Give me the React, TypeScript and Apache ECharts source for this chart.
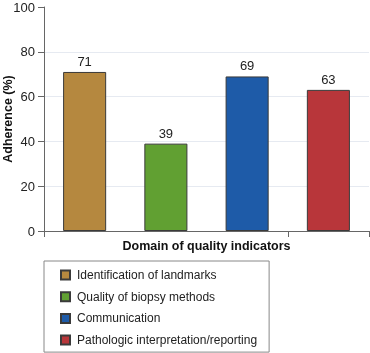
import React, { useEffect, useRef } from "react";
import * as echarts from "echarts";

const categories = [
  "Identification of landmarks",
  "Quality of biopsy methods",
  "Communication",
  "Pathologic interpretation/reporting",
];
const values = [71, 39, 69, 63];
const colors = ["#B5883F", "#61A032", "#1E5BA8", "#B8363A"];
const yTicks = [0, 20, 40, 60, 80, 100];

export default function App() {
  const ref = useRef<HTMLDivElement>(null);
  useEffect(() => {
    if (!ref.current) return;
    const chart = echarts.init(ref.current, null, { renderer: "svg" });
    const series = categories.map((name, i) => ({
      name,
      type: "bar",
      stack: "all",
      barWidth: "53%",
      data: values.map((v, j) => (j === i ? v : null)),
      itemStyle: { color: colors[i], borderColor: "#3a3a3a", borderWidth: 1 },
      label: {
        show: true,
        position: "top",
        distance: 4,
        color: "#222",
        fontSize: 13,
        fontFamily: "Liberation Sans, Arial, sans-serif",
      },
    }));
    chart.setOption({
      animation: false,
      textStyle: { fontFamily: "Liberation Sans, Arial, sans-serif" },
      grid: {
        left: 44,
        right: 1,
        top: 7,
        bottom: 122,
        containLabel: false,
        outerBoundsMode: "none",
      },
      xAxis: {
        type: "category",
        data: categories,
        name: "Domain of quality indicators",
        nameLocation: "middle",
        nameGap: 8,
        nameMoveOverlap: false,
        nameTextStyle: { fontSize: 12.5, fontWeight: "bold", color: "#111" },
        axisLine: { lineStyle: { color: "#666", width: 1 } },
        axisTick: { show: true, length: 6, alignWithLabel: false, lineStyle: { color: "#666" } },
        axisLabel: { show: false },
      },
      yAxis: {
        type: "value",
        min: 0,
        max: 100,
        interval: 20,
        name: "Adherence (%)",
        nameLocation: "middle",
        nameGap: 30,
        nameMoveOverlap: false,
        nameTextStyle: { fontSize: 12.5, fontWeight: "bold", color: "#111" },
        axisLine: { show: true, lineStyle: { color: "#666", width: 1 } },
        axisTick: { show: true, length: 6, lineStyle: { color: "#666" } },
        axisLabel: {
          fontSize: 13,
          color: "#222",
          margin: 9,
          formatter: (v: number) => (yTicks.includes(v) ? String(v) : ""),
        },
        splitLine: {
          show: true,
          lineStyle: {
            color: ["#E6EAF1", "#E6EAF1", "#E6EAF1", "#E6EAF1", "#E6EAF1", "transparent"],
            width: 1,
          },
        },
      },
      legend: {
        orient: "vertical",
        left: 44,
        top: 261,
        bottom: 0,
        data: categories,
        icon: "rect",
        itemWidth: 9,
        itemHeight: 9,
        itemGap: 9.7,
        padding: [8, 12, 6, 16],
        borderColor: "#888",
        borderWidth: 1,
        textStyle: { fontSize: 12, color: "#222", padding: [0, 0, 0, 2] },
        selectedMode: false,
      },
      series,
    });
    return () => chart.dispose();
  }, []);
  return (
    <div
      ref={ref}
      style={{ position: "fixed", left: 0, top: 0, width: 370, height: 353 }}
    />
  );
}
